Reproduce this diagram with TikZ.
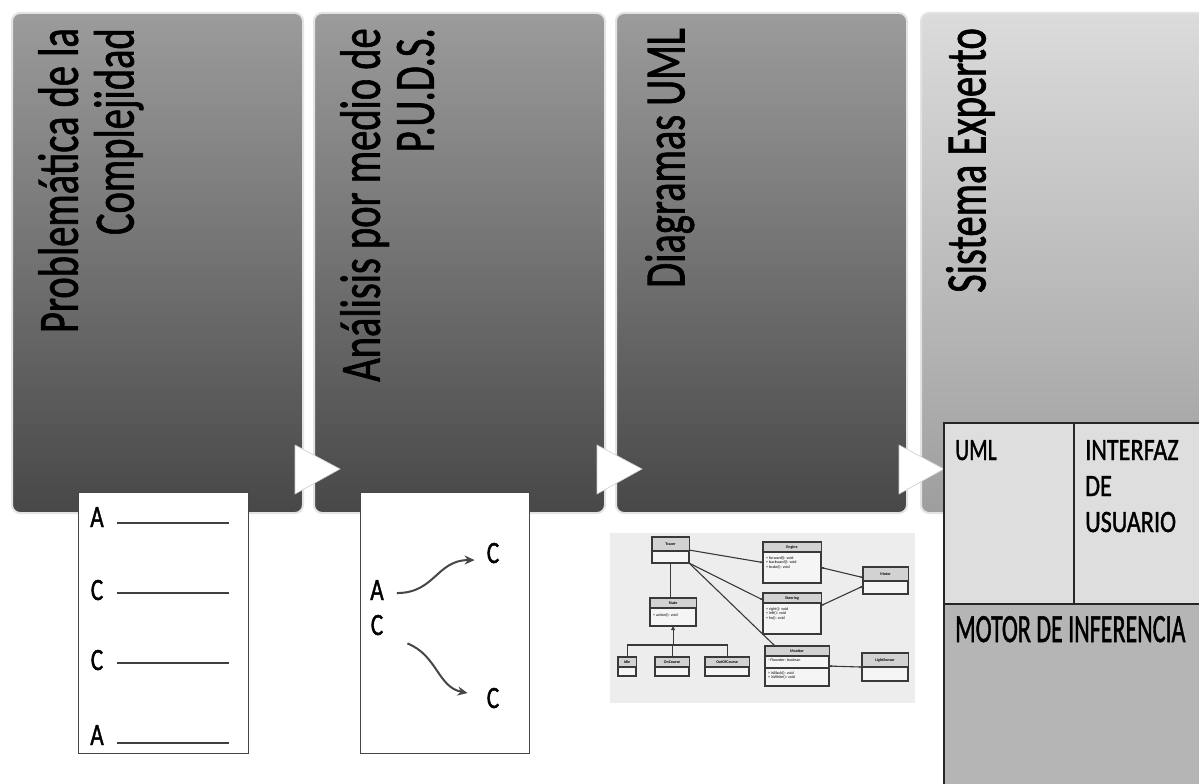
\documentclass[tikz,border=0pt]{standalone}
\usepackage{fontspec}
\setmainfont{Carlito}
\newfontfamily\heavyfont{Carlito}[FakeBold=1.5]
\usetikzlibrary{calc,arrows.meta}

\definecolor{paneltop}{gray}{0.61}
\definecolor{panelbot}{gray}{0.28}
\definecolor{sistop}{gray}{0.86}
\definecolor{sisbot}{gray}{0.62}
\definecolor{celllight}{gray}{0.87}
\definecolor{celldark}{gray}{0.71}
\definecolor{umlbg}{gray}{0.93}

\tikzset{
  panel/.style={rectangle, rounded corners=8pt, draw=gray!22, line width=2pt, inner sep=0,
    minimum width=291pt, minimum height=500pt, anchor=north west},
  paneltext/.style={rotate=90, anchor=north east, inner sep=0, font=\heavyfont\fontsize{57}{54}\selectfont},
  chevron/.style={fill=white, draw=gray!40, line width=0.6pt},
  sheet/.style={rectangle, fill=white, draw=gray!55!black, line width=1.3pt, inner sep=0, anchor=north west},
  letter/.style={inner sep=0, anchor=base, font=\heavyfont\fontsize{31}{31}\selectfont},
  blank/.style={draw=gray!50!black, line width=2.5pt},
  flow/.style={-{Stealth[length=10pt,width=9pt]}, draw=gray!55!black, line width=2pt},
  cell/.style={rectangle, draw=gray!30!black, line width=1.5pt, inner sep=0, anchor=north west},
  celltext/.style={inner sep=0, anchor=base west},
  umlcls/.style={rectangle, fill=gray!8, draw=gray!45!black, line width=1.1pt, inner sep=0, anchor=north west},
  umlline/.style={draw=gray!45!black, line width=1.1pt},
  umltext/.style={inner sep=0, font=\fontsize{4}{4.5}\selectfont},
}

% class box of the small UML picture: name, x, y, width, height, header height, title
\newcommand{\umlclass}[7]{
  \node[umlcls, minimum width=#4, minimum height=#5] (#1) at (#2,#3) {};
  \fill[gray!35] (#1.north west) rectangle ($(#1.north east)+(0,#6)$);
  \draw[umlline] (#1.north west) rectangle (#1.south east);
  \draw[umlline] ($(#1.north west)+(0,#6)$) -- ($(#1.north east)+(0,#6)$);
  \node[umltext, font=\fontsize{4}{4.5}\selectfont\bfseries] at ($(#1.north)+(0,#6/2)$) {#7};
}

\begin{document}
\begin{tikzpicture}[x=1pt, y=-1pt]
  \useasboundingbox (0,0) rectangle (1199,784);
  \clip (0,0) rectangle (1199,784);
  \fill[white] (0,0) rectangle (1199,784);

  %% panels
  \node[panel, top color=paneltop, bottom color=panelbot] (p1) at (11,12) {};
  \node[panel, top color=paneltop, bottom color=panelbot] (p2) at (313,12) {};
  \node[panel, top color=paneltop, bottom color=panelbot] (p3) at (615,12) {};
  \node[panel, top color=sistop, bottom color=sisbot, minimum width=310pt] (p4) at (920,12) {};

  \node[paneltext] (t1) at (38,28) {\scalebox{0.71}[1]{\begin{tabular}{@{}r@{}}Problemática de la\\Complejidad\end{tabular}}};
  \node[paneltext] (t2) at (340,28) {\scalebox{0.71}[1]{\begin{tabular}{@{}r@{}}Análisis por medio de\\P.U.D.S.\end{tabular}}};
  \node[paneltext] (t3) at (645,28) {\scalebox{0.71}[1]{\begin{tabular}{@{}r@{}}Diagramas UML\end{tabular}}};
  \node[paneltext] (t4) at (946,28) {\scalebox{0.71}[1]{\begin{tabular}{@{}r@{}}Sistema Experto\end{tabular}}};

  %% arrows between the panels
  \filldraw[chevron] ($(p1.south east)+(-9,-69)$) -- ++(45,24) -- ++(-45,25) -- cycle;
  \filldraw[chevron] ($(p2.south east)+(-9,-69)$) -- ++(45,24) -- ++(-45,25) -- cycle;
  \filldraw[chevron] ($(p3.south east)+(-9,-69)$) -- ++(45,24) -- ++(-45,25) -- cycle;

  %% sheet under the first panel
  \node[sheet, minimum width=170pt, minimum height=261pt] (s1) at (78,492) {};
  \node[letter] (a1) at (97,527) {\scalebox{0.75}[1]{A}};
  \node[letter] (c1) at (97,600) {\scalebox{0.75}[1]{C}};
  \node[letter] (c2) at (97,670) {\scalebox{0.75}[1]{C}};
  \node[letter] (a2) at (97,745) {\scalebox{0.75}[1]{A}};
  \draw[blank] (117,523) -- (229,523);
  \draw[blank] (117,593) -- (229,593);
  \draw[blank] (117,663) -- (229,663);
  \draw[blank] (117,743) -- (229,743);

  %% sheet under the second panel
  \node[sheet, minimum width=169pt, minimum height=261pt] (s2) at (360,492) {};
  \node[letter] (la) at (377,600) {\scalebox{0.75}[1]{A}};
  \node[letter] (lc) at (377,635) {\scalebox{0.75}[1]{C}};
  \node[letter] (lc1) at (493,563) {\scalebox{0.75}[1]{C}};
  \node[letter] (lc2) at (493,708) {\scalebox{0.75}[1]{C}};
  \draw[flow] ($(la.east)+(13,3)$) .. controls +(38,0) and +(-38,0) .. ($(lc1.west)+(-12,7)$);
  \draw[flow] ($(lc.south east)+(24,8)$) .. controls +(30,12) and +(-30,-6) .. ($(lc2.west)+(-19,-5)$);

  %% small UML picture
  \fill[umlbg] (610,533) rectangle (915,703);
  \umlclass{tracer}{652}{537}{36}{25}{14}{Tracer}
  \umlclass{engine}{763}{542}{57}{40}{10}{Engine}
  \umlclass{motor}{863}{567}{44}{26}{14}{Motor}
  \umlclass{steering}{763}{593}{57}{40}{10}{Steering}
  \umlclass{state}{650}{598}{45}{27}{10}{State}
  \umlclass{idle}{618}{657}{17}{18}{10}{Idle}
  \umlclass{oncourse}{655}{657}{33}{18}{10}{OnCourse}
  \umlclass{outcourse}{705}{657}{43}{18}{10}{OutOfCourse}
  \umlclass{monitor}{765}{646}{63}{39}{10}{Monitor}
  \umlclass{light}{862}{653}{45}{27}{14}{LightSensor}
  \node[umltext, anchor=north west, align=left] at ($(engine.north west)+(3,14)$) {+ forward(): void\\+ backward(): void\\+ brake(): void};
  \node[umltext, anchor=north west, align=left] at ($(steering.north west)+(3,14)$) {+ right(): void\\+ left(): void\\+ fw(): void};
  \node[umltext, anchor=north west, align=left] at ($(state.north west)+(3,15)$) {+ action(): void};
  \node[umltext, anchor=north west, align=left] at ($(monitor.north west)+(3,13)$) {- Flounder: boolean};
  \node[umltext, anchor=north west, align=left] at ($(monitor.north west)+(3,25)$) {+ isBlack(): void\\+ isWhite(): void};
  \draw[umlline] ($(monitor.north west)+(0,22)$) -- ($(monitor.north east)+(0,22)$);

  \draw[umlline, -{Stealth[length=3pt]}] (tracer.east) -- (engine.west);
  \draw[umlline, -{Stealth[length=3pt]}] (tracer.south east) -- ($(steering.north west)+(0,7)$);
  \draw[umlline, -{Stealth[length=3pt]}] (tracer.south east) -- ($(monitor.north west)+(10,0)$);
  \draw[umlline] (tracer.south) -- (tracer.south |- state.north);
  \draw[umlline, {Diamond[length=4pt]}-{Stealth[length=3pt]}] ($(engine.east)+(0,5)$) -- ($(motor.west)+(0,-3)$);
  \draw[umlline, {Diamond[length=4pt]}-{Stealth[length=3pt]}] ($(steering.east)+(0,-8)$) -- ($(motor.south west)+(0,-8)$);
  \draw[umlline, {Diamond[length=4pt]}-{Stealth[length=3pt]}] (monitor.east) -- (light.west);
  \draw[umlline] (idle.north) -- ++(0,-12) -| (outcourse.north);
  \draw[umlline] (oncourse.north) -- ++(0,-12);
  \draw[umlline, -{Triangle[open, length=4pt, width=4pt]}] (state.south |- oncourse.north) ++(0,-12) -- (state.south);

  %% table of the expert system
  \node[cell, fill=celllight, minimum width=130pt, minimum height=181pt] (cuml) at (943,422) {};
  \node[cell, fill=celllight, minimum width=140pt, minimum height=181pt] (cui) at (1073,422) {};
  \node[cell, fill=celldark, minimum width=270pt, minimum height=190pt] (cmotor) at (943,603) {};
  \node[celltext, font=\heavyfont\fontsize{31}{36}\selectfont] (luml) at ($(cuml.north west)+(12,38)$) {\scalebox{0.7}[1]{UML}};
  \node[celltext, font=\heavyfont\fontsize{31}{36}\selectfont] (lui) at ($(cui.north west)+(12,38)$) {\scalebox{0.78}[1]{\begin{tabular}[t]{@{}l@{}}INTERFAZ\\DE\\USUARIO\end{tabular}}};
  \node[celltext, font=\heavyfont\fontsize{40}{40}\selectfont] (lmotor) at ($(cmotor.north west)+(12,39)$) {\scalebox{0.6}[1]{MOTOR DE INFERENCIA}};
\end{tikzpicture}
\end{document}
